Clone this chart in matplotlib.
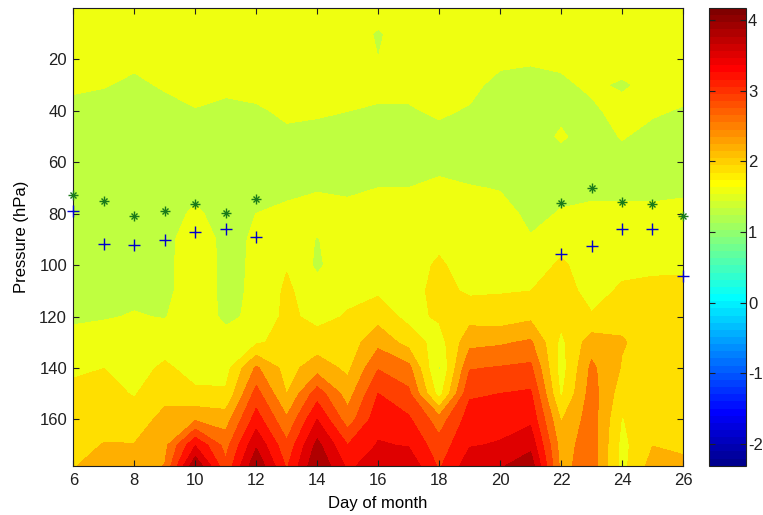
import numpy as np
import matplotlib
matplotlib.use("Agg")
import matplotlib.pyplot as plt
from matplotlib.colors import ListedColormap, Normalize
import matplotlib.cm as cm

# ---------------- data ----------------
days = [6, 7, 8, 9, 10, 11, 12, 13, 14, 15, 16, 17, 18, 19, 20, 21, 22, 23, 24, 25, 26]
pressure = [0, 10, 20, 30, 40, 50, 60, 70, 80, 90, 100, 110, 120, 130, 140, 150, 160, 170, 178]

# one vertical profile per day (values at the pressure levels above)
day06 = [1.75, 1.75, 1.72, 1.65, 1.45, 1.40, 1.40, 1.40, 1.42, 1.42, 1.42, 1.45, 1.52, 1.70, 1.85, 1.98, 2.05, 2.12, 2.20]
day07 = [1.75, 1.75, 1.70, 1.60, 1.42, 1.40, 1.40, 1.40, 1.42, 1.42, 1.43, 1.45, 1.55, 1.75, 1.90, 2.00, 2.10, 2.24, 2.40]
day08 = [1.75, 1.75, 1.66, 1.50, 1.40, 1.38, 1.40, 1.40, 1.42, 1.43, 1.45, 1.50, 1.60, 1.72, 1.80, 1.88, 2.05, 2.24, 2.45]
day09 = [1.75, 1.75, 1.72, 1.62, 1.45, 1.40, 1.40, 1.42, 1.45, 1.47, 1.47, 1.48, 1.56, 1.78, 1.95, 2.12, 2.33, 2.45, 2.56]
day10 = [1.75, 1.75, 1.74, 1.70, 1.56, 1.42, 1.42, 1.50, 1.63, 1.78, 1.80, 1.80, 1.80, 1.80, 1.80, 1.95, 2.50, 3.50, 4.12]
day11 = [1.75, 1.75, 1.73, 1.65, 1.50, 1.42, 1.42, 1.42, 1.45, 1.48, 1.48, 1.48, 1.50, 1.72, 1.78, 1.95, 2.40, 2.75, 2.95]
day12 = [1.75, 1.75, 1.74, 1.72, 1.52, 1.42, 1.40, 1.45, 1.58, 1.62, 1.63, 1.64, 1.66, 1.85, 2.60, 3.00, 3.35, 3.80, 4.12]
day13 = [1.75, 1.75, 1.75, 1.72, 1.65, 1.50, 1.42, 1.50, 1.65, 1.78, 1.88, 1.96, 1.98, 2.02, 2.10, 2.22, 2.60, 2.95, 3.15]
day14 = [1.75, 1.75, 1.75, 1.72, 1.62, 1.48, 1.42, 1.55, 1.72, 1.56, 1.52, 1.70, 1.80, 2.05, 2.40, 3.05, 3.52, 3.95, 4.15]
day15 = [1.75, 1.75, 1.75, 1.70, 1.58, 1.45, 1.40, 1.52, 1.68, 1.78, 1.80, 1.82, 1.93, 2.05, 2.15, 2.40, 2.70, 3.20, 3.45]
day16 = [1.75, 1.54, 1.58, 1.72, 1.52, 1.42, 1.42, 1.58, 1.70, 1.72, 1.72, 1.85, 2.10, 2.45, 2.85, 3.20, 3.40, 3.55, 3.70]
day17 = [1.75, 1.75, 1.72, 1.65, 1.55, 1.45, 1.42, 1.58, 1.70, 1.75, 1.76, 1.78, 1.80, 2.10, 2.65, 2.95, 3.25, 3.50, 3.75]
day18 = [1.75, 1.75, 1.75, 1.70, 1.62, 1.50, 1.45, 1.68, 1.75, 1.82, 1.95, 2.00, 1.95, 1.75, 1.53, 1.75, 2.70, 3.00, 3.15]
day19 = [1.75, 1.75, 1.72, 1.66, 1.55, 1.45, 1.42, 1.60, 1.72, 1.75, 1.75, 1.85, 2.10, 2.45, 2.85, 3.15, 3.35, 3.50, 3.70]
day20 = [1.75, 1.75, 1.65, 1.48, 1.42, 1.42, 1.42, 1.56, 1.70, 1.75, 1.75, 1.88, 2.05, 2.50, 2.90, 3.20, 3.40, 3.55, 3.80]
day21 = [1.75, 1.75, 1.62, 1.45, 1.42, 1.42, 1.42, 1.45, 1.50, 1.60, 1.75, 1.90, 2.15, 2.60, 2.95, 3.25, 3.45, 3.75, 4.05]
day22 = [1.75, 1.75, 1.66, 1.50, 1.50, 1.62, 1.45, 1.50, 1.60, 1.80, 1.95, 2.05, 1.98, 1.82, 1.75, 1.85, 2.20, 2.40, 2.45]
day23 = [1.75, 1.75, 1.72, 1.65, 1.50, 1.42, 1.42, 1.50, 1.65, 1.72, 1.75, 1.78, 1.93, 2.40, 2.62, 2.70, 2.72, 2.72, 2.72]
day24 = [1.75, 1.75, 1.75, 1.52, 1.72, 1.60, 1.45, 1.50, 1.65, 1.75, 1.82, 1.95, 2.15, 2.25, 2.20, 2.05, 1.88, 1.80, 1.80]
day25 = [1.75, 1.75, 1.75, 1.70, 1.62, 1.48, 1.42, 1.48, 1.66, 1.75, 1.85, 1.97, 2.05, 2.10, 2.10, 2.10, 2.15, 2.22, 2.35]
day26 = [1.75, 1.75, 1.75, 1.70, 1.55, 1.45, 1.42, 1.50, 1.70, 1.78, 1.86, 1.97, 2.05, 2.10, 2.10, 2.10, 2.12, 2.18, 2.28]

star_days = [6, 7, 8, 9, 10, 11, 12, 22, 23, 24, 25, 26]
star_p = [72.9, 74.9, 80.9, 78.8, 76.4, 79.6, 74.1, 75.8, 69.8, 75.4, 76.3, 80.9]
plus_days = [6, 7, 8, 9, 10, 11, 12, 22, 23, 24, 25, 26]
plus_p = [79.0, 91.8, 92.0, 90.1, 87.0, 86.0, 89.2, 95.5, 92.7, 86.0, 86.0, 104.4]

c_min, c_max = -2.31, 4.17
n_bands = 20
x_ticks = [6, 8, 10, 12, 14, 16, 18, 20, 22, 24, 26]
y_ticks = [20, 40, 60, 80, 100, 120, 140, 160]
cbar_ticks = [-2, -1, 0, 1, 2, 3, 4]

# ---------------- style helpers ----------------
def matlab_jet(m=64):
    n = int(np.ceil(m / 4))
    u = np.concatenate([np.arange(1, n + 1) / n, np.ones(n - 1), np.arange(n, 0, -1) / n])
    g = int(np.ceil(n / 2)) - (1 if m % 4 == 1 else 0) + np.arange(1, len(u) + 1)
    r = g + n
    b = g - n
    J = np.zeros((m, 3))
    for arr, col in ((r, 0), (g, 1), (b, 2)):
        mask = (arr >= 1) & (arr <= m)
        J[arr[mask] - 1, col] = u[mask]
    return J

jet64 = matlab_jet(64)
levels = np.linspace(c_min, c_max, n_bands + 1)
band_colors = []
for lev in levels[:-1]:
    idx = int(np.floor((lev - c_min) / (c_max - c_min) * 64))
    idx = min(max(idx, 0), 63)
    band_colors.append(jet64[idx])

plt.rcParams['font.family'] = ['Liberation Sans', 'DejaVu Sans']
plt.rcParams['font.size'] = 12
plt.rcParams['axes.unicode_minus'] = False

Z = np.array([day06, day07, day08, day09, day10, day11, day12, day13, day14, day15,
              day16, day17, day18, day19, day20, day21, day22, day23, day24, day25, day26]).T
X, Y = np.meshgrid(days, pressure)

fig = plt.figure(figsize=(7.63, 5.15), dpi=100)
ax = fig.add_axes([0.0961, 0.0957, 0.799, 0.8887])
cs = ax.contourf(X, Y, Z, levels=levels, colors=band_colors, antialiased=False)

ax.plot(star_days, star_p, linestyle='none', marker='+', markersize=7.2, markeredgewidth=1.0,
        color='#1a7a1a', clip_on=False, zorder=5)
ax.plot(star_days, star_p, linestyle='none', marker='x', markersize=5.0, markeredgewidth=1.0,
        color='#1a7a1a', clip_on=False, zorder=5)
ax.plot(plus_days, plus_p, linestyle='none', marker='+', markersize=8.6, markeredgewidth=1.0,
        color='#0000cc', clip_on=False, zorder=5)

ax.set_xlim(6, 26)
ax.set_ylim(178, 0)
ax.set_xticks(x_ticks)
ax.set_yticks(y_ticks)
ax.tick_params(direction='in', top=True, right=True, length=4.3, width=0.8, pad=4.5, colors='#202020')
ax.tick_params(axis='x', pad=5)
for s in ax.spines.values():
    s.set_color('#202020')
    s.set_linewidth(0.8)
ax.set_xlabel('Day of month', labelpad=6)
ax.set_ylabel('Pressure (hPa)', labelpad=7)

cax = fig.add_axes([0.9292, 0.0957, 0.0485, 0.8887])
sm = cm.ScalarMappable(norm=Normalize(c_min, c_max), cmap=ListedColormap(jet64))
cb = fig.colorbar(sm, cax=cax, ticks=cbar_ticks)
cb.outline.set_edgecolor('#202020')
cb.outline.set_linewidth(0.8)
cax.tick_params(direction='in', left=True, right=True, length=4.3, width=0.8, pad=1.5, colors='#202020')

fig.savefig('out.png', dpi=100)
